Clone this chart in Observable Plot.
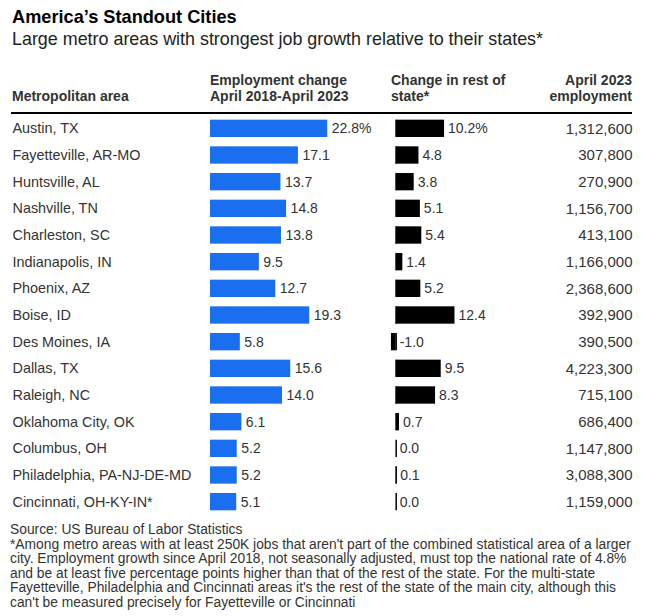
<!DOCTYPE html>
<html><head><meta charset="utf-8">
<script src="https://cdn.jsdelivr.net/npm/d3@7"></script>
<script src="https://cdn.jsdelivr.net/npm/@observablehq/plot@0.6"></script>
<style>
body{margin:0;background:#fff;font-family:"Liberation Sans",Arial,sans-serif;color:#333}
#wrap{width:647px}
#title{font-size:18.2px;font-weight:bold;line-height:22px;color:#000;padding:6px 0 0 12px}
#sub{font-size:17.9px;line-height:20px;color:#222;margin-top:1px;padding-left:12px}
#hdr{display:flex;align-items:flex-end;margin-top:23px;padding-bottom:8px;font-size:14px;font-weight:bold;line-height:16px;color:#333}
#hdr div{box-sizing:border-box;white-space:nowrap}
#rule{height:2px;background:#000;margin:0 15px 0 11px}
#cols{display:flex}
#foot{margin-top:8px;padding-left:10px;font-size:13.8px;line-height:14.6px;color:#333;white-space:nowrap}
</style></head><body>
<div id="wrap">
<div id="title">America’s Standout Cities</div>
<div id="sub">Large metro areas with strongest job growth relative to their states*</div>
<div id="hdr">
  <div style="width:210px;padding-left:12px">Metropolitan area</div>
  <div style="width:180px">Employment change<br>April 2018-April 2023</div>
  <div style="width:110px;padding-left:1px">Change in rest of<br>state*</div>
  <div style="width:147px;padding-right:15px;text-align:right">April 2023<br>employment</div>
</div>
<div id="rule"></div>
<div id="cols"></div>
<div id="foot">Source: US Bureau of Labor Statistics<br>*Among metro areas with at least 250K jobs that aren't part of the combined statistical area of a larger<br>city. Employment growth since April 2018, not seasonally adjusted, must top the national rate of 4.8%<br>and be at least five percentage points higher than that of the rest of the state. For the multi-state<br>Fayetteville, Philadelphia and Cincinnati areas it's the rest of the state of the main city, although this<br>can't be measured precisely for Fayetteville or Cincinnati</div>
</div>
<script>
const cities = ["Austin, TX","Fayetteville, AR-MO","Huntsville, AL","Nashville, TN","Charleston, SC","Indianapolis, IN","Phoenix, AZ","Boise, ID","Des Moines, IA","Dallas, TX","Raleigh, NC","Oklahoma City, OK","Columbus, OH","Philadelphia, PA-NJ-DE-MD","Cincinnati, OH-KY-IN*"];
const empChange = [22.8,17.1,13.7,14.8,13.8,9.5,12.7,19.3,5.8,15.6,14.0,6.1,5.2,5.2,5.1];
const restChange = [10.2,4.8,3.8,5.1,5.4,1.4,5.2,12.4,-1.0,9.5,8.3,0.7,0.0,0.1,0.0];
const employment = [1312600,307800,270900,1156700,413100,1166000,2368600,392900,390500,4223300,715100,686400,1147800,3088300,1159000];

const rows = cities.map((c, i) => ({city: c, emp: empChange[i], rest: restChange[i], jobs: employment[i], i}));
const font = '"Liberation Sans", Arial, sans-serif';
const base = {
  height: 401, marginTop: 1, marginBottom: 0,
  y: {domain: cities, paddingInner: 0.35, paddingOuter: 0.175, round: false, axis: null},
  style: {fontFamily: font, overflow: "visible", background: "transparent"}
};
const fmtV = (v, i) => i === 0 ? v.toFixed(1) + "%" : v.toFixed(1);

const p1 = Plot.plot({...base, width: 210, marginLeft: 12, marginRight: 0,
  marks: [Plot.text(rows, {y: "city", text: "city", frameAnchor: "left", textAnchor: "start", fontSize: 14.4, fill: "#333"})]
});
const p2 = Plot.plot({...base, width: 180, marginLeft: 0, marginRight: 0,
  x: {domain: [0, 35], axis: null},
  marks: [
    Plot.barX(rows, {x: "emp", y: "city", fill: "#1a6ff0"}),
    Plot.text(rows, {x: "emp", y: "city", text: d => fmtV(d.emp, d.i), dx: 4, textAnchor: "start", fontSize: 14, fill: "#333"})
  ]
});
const p3 = Plot.plot({...base, width: 110, marginLeft: 0, marginRight: 0,
  x: {domain: [-1.2, 22], axis: null},
  marks: [
    Plot.barX(rows, {x: "rest", y: "city", fill: "#000"}),
    Plot.tickX(rows, {x: () => 0, y: "city", stroke: "#000", strokeWidth: 1.5}),
    Plot.text(rows, {x: d => Math.max(0, d.rest), y: "city", text: d => fmtV(d.rest, d.i), dx: 3.5, textAnchor: "start", fontSize: 14, fill: "#333"})
  ]
});
const p4 = Plot.plot({...base, width: 147, marginLeft: 0, marginRight: 15,
  marks: [Plot.text(rows, {y: "city", text: d => d3.format(",")(d.jobs), frameAnchor: "right", textAnchor: "end", fontSize: 15, fill: "#333"})]
});
const cols = document.getElementById("cols");
[p1, p2, p3, p4].forEach(p => cols.appendChild(p));
</script>
</body></html>
